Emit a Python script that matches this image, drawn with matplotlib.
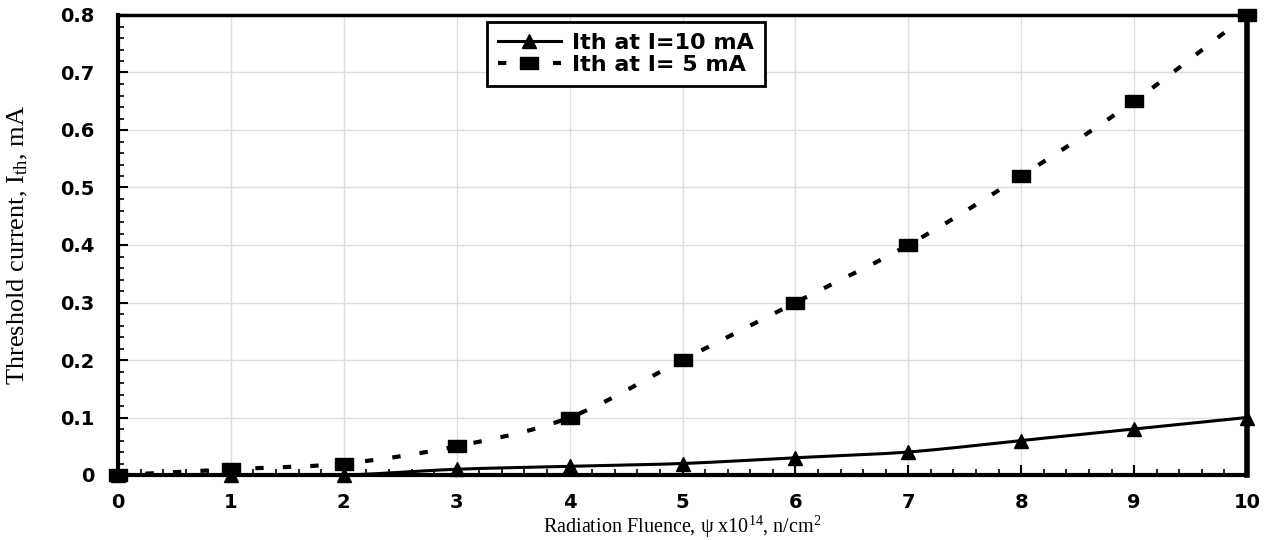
import numpy as np
import matplotlib.pyplot as plt
from matplotlib.path import Path
from matplotlib.ticker import MultipleLocator, FormatStrFormatter

fluence = [0, 1, 2, 3, 4, 5, 6, 7, 8, 9, 10]
ith_10mA = [0, 0, 0, 0.01, 0.015, 0.02, 0.03, 0.04, 0.06, 0.08, 0.1]
ith_5mA = [0, 0.01, 0.02, 0.05, 0.1, 0.2, 0.3, 0.4, 0.52, 0.65, 0.8]

plt.rcParams['mathtext.fontset'] = 'custom'
plt.rcParams['mathtext.rm'] = 'Liberation Serif'
plt.rcParams['mathtext.it'] = 'Liberation Serif:italic'


def smooth(x, y, n=20):
    # Catmull-Rom curve through the points, like Excel's smoothed line
    x = np.asarray(x, float)
    y = np.asarray(y, float)
    px = np.concatenate([[2 * x[0] - x[1]], x, [2 * x[-1] - x[-2]]])
    py = np.concatenate([[2 * y[0] - y[1]], y, [2 * y[-1] - y[-2]]])
    xs, ys = [], []
    t = np.linspace(0, 1, n, endpoint=False)
    for i in range(1, len(px) - 2):
        for p, out in ((px, xs), (py, ys)):
            p0, p1, p2, p3 = p[i - 1], p[i], p[i + 1], p[i + 2]
            out.extend(0.5 * (2 * p1 + (-p0 + p2) * t
                              + (2 * p0 - 5 * p1 + 4 * p2 - p3) * t ** 2
                              + (-p0 + 3 * p1 - 3 * p2 + p3) * t ** 3))
    xs.append(x[-1])
    ys.append(y[-1])
    return xs, ys


rect = Path([(-1.5, -1), (1.5, -1), (1.5, 1), (-1.5, 1), (-1.5, -1)],
            [Path.MOVETO, Path.LINETO, Path.LINETO, Path.LINETO, Path.CLOSEPOLY])
dash = (2.0, 4.6)

fig = plt.figure(figsize=(12.67, 5.4), dpi=100)
ax = fig.add_axes([118 / 1267, 65 / 540, 1129 / 1267, 460 / 540])

sx, sy = smooth(fluence, ith_10mA)
ax.plot(sx, sy, '-', color='black', lw=2.2, zorder=3)
ax.plot(fluence, ith_10mA, '^', color='black', ms=10, zorder=4, clip_on=False)
sx, sy = smooth(fluence, ith_5mA)
ax.plot(sx, sy, color='black', lw=3, dashes=dash, zorder=3)
ax.plot(fluence, ith_5mA, marker=rect, ls='none', color='black', ms=13, zorder=4, clip_on=False)

# legend proxies
l1, = ax.plot([], [], '-^', color='black', lw=2.2, ms=10)
l2, = ax.plot([], [], color='black', lw=3, dashes=dash, marker=rect, ms=13)
leg = ax.legend([l1, l2], ['Ith at I=10 mA', 'Ith at I= 5 mA'],
                loc='upper left', bbox_to_anchor=(0.327, 0.985), fancybox=False,
                framealpha=1, edgecolor='black', handlelength=2.8,
                prop={'family': 'DejaVu Sans', 'weight': 'bold', 'size': 16},
                borderpad=0.5, labelspacing=0.1, handletextpad=0.5, borderaxespad=0)
leg.get_frame().set_linewidth(2)

ax.set_xlim(0, 10)
ax.set_ylim(0, 0.8)
ax.xaxis.set_major_locator(MultipleLocator(1))
ax.xaxis.set_minor_locator(MultipleLocator(0.2))
ax.yaxis.set_major_locator(MultipleLocator(0.1))
ax.yaxis.set_minor_locator(MultipleLocator(0.02))
ax.yaxis.set_major_formatter(FormatStrFormatter('%g'))
ax.grid(True, which='major', color='#dddddd', lw=1)
ax.set_axisbelow(True)

ax.tick_params(which='both', direction='in', color='black')
ax.tick_params(which='major', length=7, width=1.5)
ax.tick_params(which='minor', length=4, width=1.2)
ax.tick_params(axis='y', pad=17)
ax.tick_params(axis='x', pad=13)
for lab in ax.get_xticklabels() + ax.get_yticklabels():
    lab.set_fontfamily('DejaVu Sans')
    lab.set_fontweight('bold')
    lab.set_fontsize(14)

ax.spines['left'].set_linewidth(3)
ax.spines['bottom'].set_linewidth(3)
ax.spines['top'].set_linewidth(2.5)
ax.spines['right'].set_linewidth(4)

ax.set_xlabel(r'Radiation Fluence, $\mathrm{\psi}$ x10$^{14}$, n/cm$^{2}$',
              family='Liberation Serif', fontsize=14.5)
ax.xaxis.set_label_coords(0.5, -0.112)
ax.xaxis.label.set_va('center')
ax.set_ylabel(r'Threshold current, I$_{\mathrm{th}}$, mA', family='Liberation Serif', fontsize=19)
ax.yaxis.set_label_coords(-0.089, 0.5)
ax.yaxis.label.set_va('center')

fig.savefig('out.png', dpi=100)
